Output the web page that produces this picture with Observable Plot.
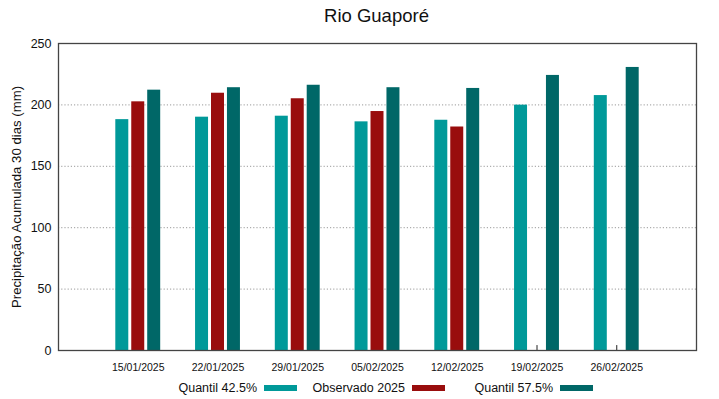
<!DOCTYPE html>
<html>
<head>
<meta charset="utf-8">
<script src="https://cdn.jsdelivr.net/npm/d3@7"></script>
<script src="https://cdn.jsdelivr.net/npm/@observablehq/plot@0.6"></script>
<style>
  html, body { margin: 0; padding: 0; background: #fff; }
  body { width: 719px; height: 399px; overflow: hidden; font-family: "Liberation Sans", Arial, sans-serif; color: #111; }
  #title { height: 30px; line-height: 32px; font-size: 18.5px; text-align: center; padding-left: 34px; box-sizing: border-box; }
  #chart svg { display: block; }
  #legend { position: relative; height: 21px; font-size: 12.5px; }
  .lg { position: absolute; top: 3px; display: flex; align-items: center; }
  .lg .sw { display: inline-block; width: 33px; height: 6px; margin-left: 7px; }
  #chart g[aria-label="y-axis label"] text { font-size: 13.2px; }
</style>
</head>
<body>
<div id="title">Rio Guaporé</div>
<div id="chart"></div>
<div id="legend"></div>
<script>
// ---- data ----
const dates = ["2025-01-15", "2025-01-22", "2025-01-29", "2025-02-05", "2025-02-12", "2025-02-19", "2025-02-26"];
const quantil425 = [188.0, 190.0, 190.8, 186.2, 187.5, 199.8, 207.6];
const observado2025 = [202.5, 209.5, 205.0, 194.6, 182.0, null, null];
const quantil575 = [212.0, 214.0, 216.0, 214.0, 213.4, 224.0, 230.5];
const seriesNames = ["Quantil 42.5%", "Observado 2025", "Quantil 57.5%"];
const seriesColors = ["#009999", "#990d0d", "#006767"];
const yTicks = [0, 50, 100, 150, 200, 250];
const gridValues = [50, 100, 150, 200];
const xDomain = ["2025-01-08", "2025-03-05"];
const yDomain = [0, 250];

// ---- build table ----
const DAY = 864e5;
const groupOffset = 1.4;   // days between adjacent bars in a group
const halfWidth = 0.57;    // half bar width, days
const seriesValues = [quantil425, observado2025, quantil575];
const rows = [];
seriesValues.forEach((vals, s) => {
  vals.forEach((v, i) => {
    if (v == null) return;
    const t = new Date(dates[i]).getTime() + (s - 1) * groupOffset * DAY;
    rows.push({series: seriesNames[s], x1: new Date(t - halfWidth * DAY), x2: new Date(t + halfWidth * DAY), value: v});
  });
});
const tickDates = dates.map(d => new Date(d));

const chart = Plot.plot({
  width: 719,
  height: 348,
  marginLeft: 58,
  marginRight: 23,
  marginTop: 13,
  marginBottom: 28,
  style: {fontFamily: "Liberation Sans, Arial, sans-serif", fontSize: "12.5px", color: "#111", background: "#fff"},
  x: {type: "utc", domain: xDomain.map(d => new Date(d))},
  y: {domain: yDomain},
  color: {domain: seriesNames, range: seriesColors},
  marks: [
    Plot.ruleY(gridValues, {stroke: "#9a9a9a", strokeWidth: 1, strokeDasharray: "1.2,2"}),
    Plot.ruleX(tickDates, {x: d => d, y1: 0, y2: 4, stroke: "#222", strokeWidth: 1}),
    Plot.rectY(rows, {x1: "x1", x2: "x2", y: "value", fill: "series"}),
    Plot.frame({stroke: "#444", strokeWidth: 1.3}),
    Plot.axisY({
      ticks: yTicks, tickSize: 0, tickPadding: 7,
      label: "Precipitação Acumulada 30 dias (mm)", labelAnchor: "center", labelArrow: "none", labelOffset: 47,
      fontSize: 12.5
    }),
    Plot.axisX({
      ticks: tickDates, tickSize: 0, tickPadding: 13,
      tickFormat: d3.utcFormat("%d/%m/%Y"), label: null, fontSize: 10.5
    })
  ]
});
document.getElementById("chart").appendChild(chart);

// ---- legend ----
const legend = document.getElementById("legend");
const legendRight = [297, 445, 593];  // right edge of each swatch
seriesNames.forEach((name, i) => {
  const item = document.createElement("div");
  item.className = "lg";
  item.innerHTML = `<span>${name}</span><span class="sw" style="background:${seriesColors[i]}"></span>`;
  item.style.right = (719 - legendRight[i]) + "px";
  legend.appendChild(item);
});
</script>
</body>
</html>
